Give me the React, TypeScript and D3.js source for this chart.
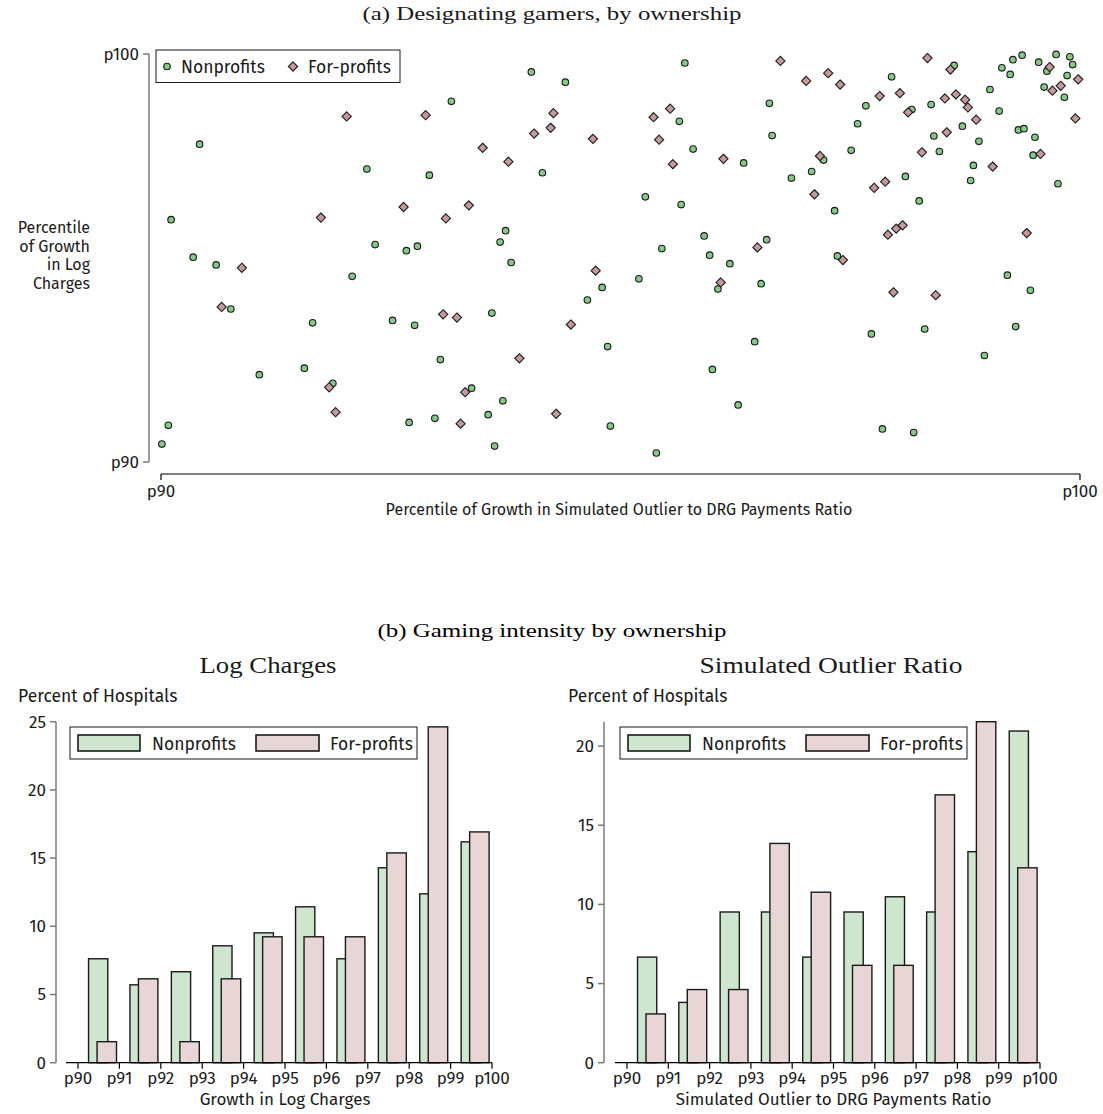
import React from 'react';
import * as d3 from 'd3';

// ---------- Data: panel (a) scatter (percentiles) ----------
const nonprofitX = [90.42,90.11,90.35,90.60,90.76,91.07,90.08,90.01,92.24,92.08,91.65,91.56,91.87,92.33,92.67,92.79,92.52,92.76,92.70,92.98,92.92,93.16,93.04,94.03,94.40,94.15,93.75,93.69,93.81,94.80,94.64,93.60,94.86,93.38,93.72,93.56,94.89,93.63,95.39,95.70,95.64,95.79,96.34,95.27,95.66,95.91,95.45,95.97,96.19,95.20,96.06,96.53,96.46,96.00,96.28,96.62,96.65,97.21,96.86,97.08,97.33,96.59,97.36,97.95,97.67,97.58,97.51,98.17,98.38,98.41,98.47,98.63,98.72,98.90,98.84,98.81,99.02,99.12,99.15,99.24,99.27,99.37,99.55,99.74,99.89,99.64,99.92,99.86,99.61,99.83,99.33,99.39,99.51,99.49,99.76,98.25,98.10,99.21,99.46,98.31,97.73,99.30,98.96,97.85,98.19];
const nonprofitY = [97.79,95.94,95.02,94.83,93.75,92.14,90.90,90.44,97.18,94.55,93.41,92.30,91.93,95.33,95.18,95.29,93.47,93.35,90.97,91.07,97.03,98.84,92.51,99.56,99.31,97.09,95.67,95.39,94.89,94.28,93.97,93.65,92.83,91.81,91.50,91.16,90.88,90.39,90.22,99.78,98.35,97.67,97.33,96.50,96.31,95.54,95.23,95.07,94.86,94.49,94.24,94.37,92.95,92.27,91.40,98.79,98.00,97.40,96.96,97.12,96.16,95.45,95.05,99.44,98.73,98.29,97.64,98.64,98.76,97.99,97.61,99.72,98.23,97.86,97.27,96.90,99.13,98.60,99.66,99.50,99.86,99.97,99.80,99.99,99.93,99.58,99.74,99.47,99.19,98.94,98.14,98.17,97.96,97.52,96.82,96.40,97.00,94.58,94.21,93.26,93.14,93.32,92.61,90.81,90.72];
const forprofitX = [90.88,90.66,92.02,91.74,91.83,91.90,92.64,92.88,93.10,93.07,93.22,93.26,93.31,94.27,94.24,94.06,94.70,93.50,93.78,93.35,94.73,94.46,93.90,94.30,95.54,95.36,95.42,95.57,96.12,96.49,96.09,96.74,97.02,97.26,97.39,97.17,97.11,97.42,97.82,98.04,98.13,98.28,98.34,98.59,98.53,98.65,98.75,98.78,98.87,98.55,99.05,99.67,99.98,99.79,99.70,99.95,99.57,97.91,98.00,98.07,97.76,97.88,99.42,97.97,98.43];
const forprofitY = [94.76,93.80,98.47,95.99,91.83,91.22,96.25,98.50,95.97,93.62,93.54,90.94,91.71,98.55,98.19,98.05,97.92,97.70,97.36,96.29,94.69,93.37,92.54,91.18,98.66,98.45,97.90,97.30,97.43,95.26,94.40,99.83,99.34,99.53,99.25,97.50,96.56,94.95,98.97,99.04,98.57,97.59,99.90,99.62,98.91,99.01,98.88,98.69,98.39,98.08,97.24,99.68,99.38,99.22,99.10,98.42,97.55,95.57,95.72,95.80,96.72,96.87,95.61,94.16,94.09];

// ---------- Data: panel (b) histograms (percent of hospitals) ----------
const binLabels = ['p90','p91','p92','p93','p94','p95','p96','p97','p98','p99','p100'];
const chargesNonprofit = [7.62,5.71,6.67,8.57,9.52,11.43,7.62,14.29,12.38,16.19];
const chargesForprofit = [1.54,6.15,1.54,6.15,9.23,9.23,9.23,15.38,24.62,16.92];
const ratioNonprofit = [6.67,3.81,9.52,9.52,6.67,9.52,10.48,9.52,13.33,20.95];
const ratioForprofit = [3.08,4.62,4.62,13.85,10.77,6.15,6.15,16.92,21.54,12.31];
const chargesYTicks = [0,5,10,15,20,25];
const ratioYTicks = [0,5,10,15,20];
const yTitleLines = ['Percentile', 'of Growth', 'in Log', 'Charges'];

const SANS = "'Fira Sans', 'Open Sans', 'Noto Sans', sans-serif";
const SERIF = "'Liberation Serif', 'DejaVu Serif', serif";
const GREEN = '#86c986';
const PINK = '#c49a9a';
const GREEN_BAR = '#cde6cd';
const PINK_BAR = '#e8d6d6';
const STROKE = '#1a1a1a';
const AXIS_GRAY = '#7a7a7a';
const TXT = '#1a1a1a';

function diamond(cx: number, cy: number, h: number) {
  return `M${cx},${cy - h}L${cx + h},${cy}L${cx},${cy + h}L${cx - h},${cy}Z`;
}

function Scatter() {
  const x = d3.scaleLinear().domain([90, 100]).range([161, 1080]);
  const y = d3.scaleLinear().domain([90, 100]).range([462, 54]);
  return (
    <g fill={TXT}>
      <text x={552} y={20} textAnchor="middle" fontFamily={SERIF} fontSize={19} textLength={379} lengthAdjust="spacingAndGlyphs">(a) Designating gamers, by ownership</text>
      {/* y axis */}
      <line x1={149} x2={149} y1={y(100)} y2={y(90)} stroke={AXIS_GRAY} strokeWidth={1.5} />
      {[90, 100].map((t) => (
        <g key={t}>
          <line x1={143} x2={149} y1={y(t)} y2={y(t)} stroke={AXIS_GRAY} strokeWidth={1.5} />
          <text x={139} y={y(t)} dy="0.35em" textAnchor="end" fontFamily={SANS} fontSize={17}>{`p${t}`}</text>
        </g>
      ))}
      {/* y title */}
      <text x={90} y={233} textAnchor="end" fontFamily={SANS} fontSize={16}>
        {yTitleLines.map((s, i) => (
          <tspan key={s} x={90} dy={i === 0 ? 0 : 18.5}>{s}</tspan>
        ))}
      </text>
      {/* x axis */}
      <line x1={x(90)} x2={x(100)} y1={474} y2={474} stroke="#000" strokeWidth={1.2} />
      {[90, 100].map((t) => (
        <g key={t}>
          <line x1={x(t)} x2={x(t)} y1={474} y2={480} stroke="#000" strokeWidth={1.2} />
          <text x={x(t)} y={497} textAnchor="middle" fontFamily={SANS} fontSize={17}>{`p${t}`}</text>
        </g>
      ))}
      <text x={619} y={515} textAnchor="middle" fontFamily={SANS} fontSize={16}>Percentile of Growth in Simulated Outlier to DRG Payments Ratio</text>
      {/* points */}
      {nonprofitX.map((v, i) => (
        <circle key={'n' + i} cx={x(v)} cy={y(nonprofitY[i])} r={3.3} fill={GREEN} stroke={STROKE} strokeWidth={1.1} />
      ))}
      {forprofitX.map((v, i) => (
        <path key={'f' + i} d={diamond(x(v), y(forprofitY[i]), 4.6)} fill={PINK} stroke={STROKE} strokeWidth={1.1} />
      ))}
      {/* legend */}
      <rect x={156} y={50} width={244} height={32.5} fill="#fff" stroke={STROKE} strokeWidth={1} />
      <circle cx={167} cy={66.5} r={3.3} fill={GREEN} stroke={STROKE} strokeWidth={1.1} />
      <text x={181} y={72.5} fontFamily={SANS} fontSize={17.5}>Nonprofits</text>
      <path d={diamond(293, 66.5, 4.6)} fill={PINK} stroke={STROKE} strokeWidth={1.1} />
      <text x={308} y={72.5} fontFamily={SANS} fontSize={17.5}>For-profits</text>
    </g>
  );
}

type PanelProps = {
  title: string; titleX: number; titleLen: number;
  yAxisX: number; xStart: number; p90: number; p100: number;
  yMax: number; yTicks: number[];
  np: number[]; fp: number[];
  xTitle: string; legendX: number; labelX: number;
};

function BarPanel(p: PanelProps) {
  const y0 = 1062.7;
  const yTop = 721.7;
  const x = d3.scaleLinear().domain([90, 100]).range([p.p90, p.p100]);
  const y = d3.scaleLinear().domain([0, p.yMax]).range([y0, yTop]);
  const lx = p.legendX;
  return (
    <g fill={TXT}>
      <text x={p.titleX} y={673} textAnchor="middle" fontFamily={SERIF} fontSize={23} textLength={p.titleLen} lengthAdjust="spacingAndGlyphs">{p.title}</text>
      <text x={p.labelX} y={701.5} fontFamily={SANS} fontSize={17.5}>Percent of Hospitals</text>
      {/* y axis */}
      <line x1={p.yAxisX} x2={p.yAxisX} y1={y(0)} y2={y(p.yMax)} stroke={AXIS_GRAY} strokeWidth={1.5} />
      {p.yTicks.map((t) => (
        <g key={t}>
          <line x1={p.yAxisX - 6} x2={p.yAxisX} y1={y(t)} y2={y(t)} stroke={AXIS_GRAY} strokeWidth={1.5} />
          <text x={p.yAxisX - 10} y={y(t)} dy="0.35em" textAnchor="end" fontFamily={SANS} fontSize={17}>{t}</text>
        </g>
      ))}
      {/* bars */}
      {p.np.map((v, i) => (
        <rect key={'n' + i} x={x(90 + i + 0.255)} width={x(90.465) - x(90)} y={y(v)} height={y(0) - y(v)} fill={GREEN_BAR} stroke={STROKE} strokeWidth={1.4} />
      ))}
      {p.fp.map((v, i) => (
        <rect key={'f' + i} x={x(90 + i + 0.46)} width={x(90.47) - x(90)} y={y(v)} height={y(0) - y(v)} fill={PINK_BAR} stroke={STROKE} strokeWidth={1.4} />
      ))}
      {/* x axis */}
      <line x1={p.xStart} x2={x(100)} y1={y0} y2={y0} stroke="#000" strokeWidth={1.2} />
      {binLabels.map((lab, i) => (
        <g key={lab}>
          <line x1={x(90 + i)} x2={x(90 + i)} y1={y0} y2={y0 + 6} stroke="#000" strokeWidth={1.2} />
          <text x={x(90 + i)} y={1084} textAnchor="middle" fontFamily={SANS} fontSize={17}>{lab}</text>
        </g>
      ))}
      <text x={(x(90) + x(100)) / 2} y={1105} textAnchor="middle" fontFamily={SANS} fontSize={17}>{p.xTitle}</text>
      {/* legend */}
      <rect x={lx} y={727} width={347} height={32} fill="#fff" stroke={STROKE} strokeWidth={1} />
      <rect x={lx + 8} y={735} width={62} height={16} fill={GREEN_BAR} stroke={STROKE} strokeWidth={1.6} />
      <text x={lx + 82} y={749.5} fontFamily={SANS} fontSize={17.5}>Nonprofits</text>
      <rect x={lx + 186} y={735} width={63} height={16} fill={PINK_BAR} stroke={STROKE} strokeWidth={1.6} />
      <text x={lx + 260} y={749.5} fontFamily={SANS} fontSize={17.5}>For-profits</text>
    </g>
  );
}

export default function App() {
  return (
    <svg width={1103} height={1114} style={{ position: 'absolute', left: 0, top: 0, background: '#fff' }}>
      <rect x={0} y={0} width={1103} height={1114} fill="#fff" />
      <Scatter />
      <text x={552} y={637} textAnchor="middle" fontFamily={SERIF} fontSize={19} textLength={349} lengthAdjust="spacingAndGlyphs">(b) Gaming intensity by ownership</text>
      <BarPanel title="Log Charges" titleX={268} titleLen={137} yAxisX={56} xStart={66} p90={78} p100={492}
        yMax={25} yTicks={chargesYTicks} np={chargesNonprofit} fp={chargesForprofit}
        xTitle="Growth in Log Charges" legendX={70} labelX={18} />
      <BarPanel title="Simulated Outlier Ratio" titleX={831} titleLen={263} yAxisX={604} xStart={615} p90={627} p100={1040}
        yMax={21.54} yTicks={ratioYTicks} np={ratioNonprofit} fp={ratioForprofit}
        xTitle="Simulated Outlier to DRG Payments Ratio" legendX={620} labelX={568} />
    </svg>
  );
}
